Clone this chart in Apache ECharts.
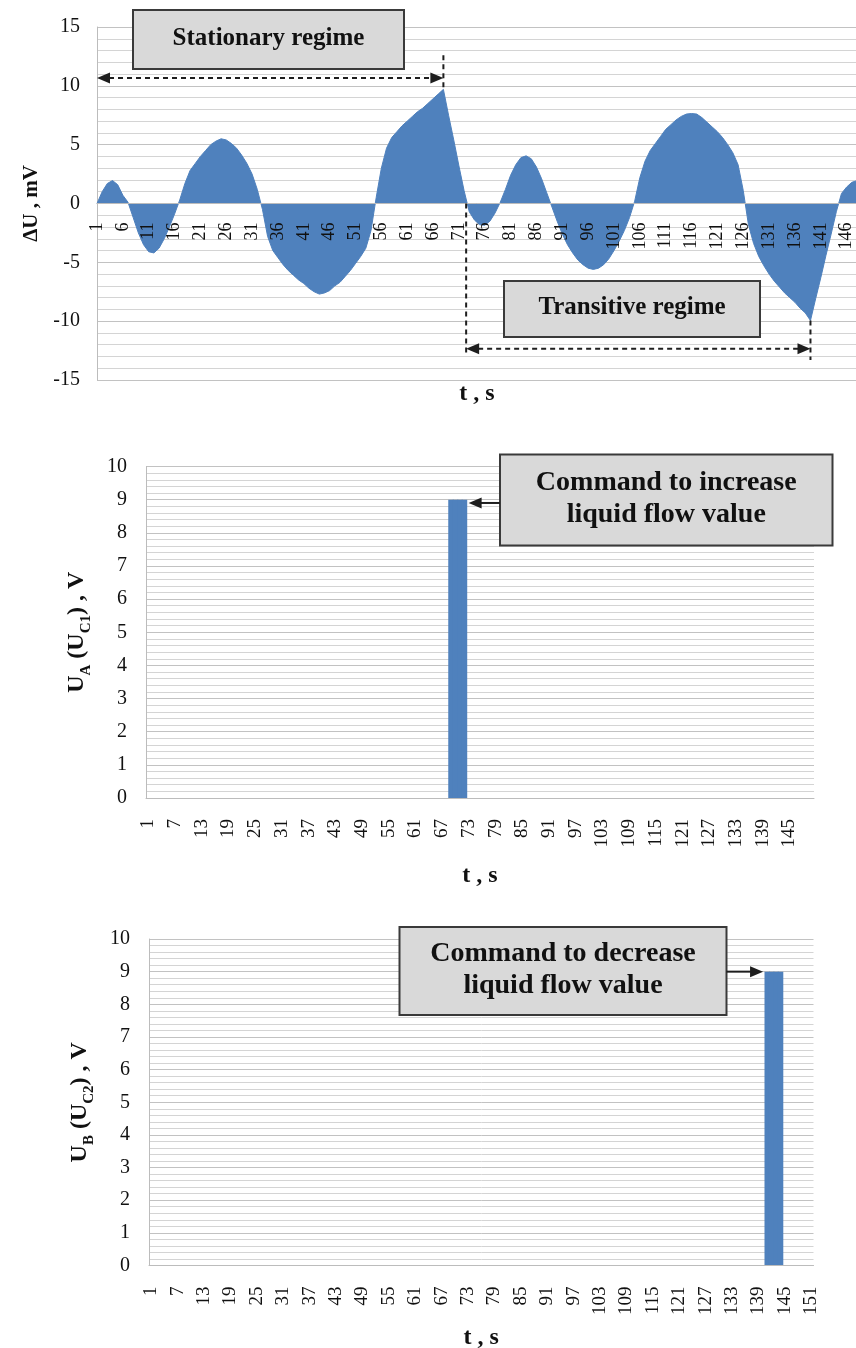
<!DOCTYPE html>
<html>
<head>
<meta charset="utf-8">
<script src="https://cdn.jsdelivr.net/npm/echarts@6/dist/echarts.min.js"></script>
<style>
html,body{margin:0;padding:0;background:#ffffff;}
#c{width:856px;height:1348px;}
</style>
</head>
<body>
<div id="c"></div>
<script>
// ---- Data ----
// Top chart: ΔU, mV for t = 1 .. 148 s
const deltaU = [
  0, 1.0, 1.7, 1.95, 1.6, 0.7, 0.1, -1.2, -2.5, -3.5,
  -4.1, -4.2, -3.8, -3.0, -2.0, -0.9, 0.3, 1.7, 2.8, 3.4,
  4.0, 4.5, 5.0, 5.3, 5.5, 5.4, 5.1, 4.7, 4.1, 3.4,
  2.5, 1.2, -0.5, -2.8, -4.0, -4.6, -5.2, -5.7, -6.1, -6.5,
  -6.8, -7.2, -7.5, -7.7, -7.6, -7.4, -7.0, -6.7, -6.2, -5.7,
  -5.1, -4.5, -3.8, -2.3, 0.5, 3.0, 4.7, 5.6, 6.1, 6.6,
  7.0, 7.4, 7.8, 8.1, 8.5, 8.9, 9.3, 9.7, 7.5, 5.4,
  3.2, 1.1, -0.7, -1.4, -1.8, -1.85, -1.5, -0.8, 0.1, 1.2,
  2.4, 3.3, 3.9, 4.05, 3.8, 3.1, 2.1, 0.9, -0.3, -1.5,
  -2.6, -3.5, -4.2, -4.8, -5.2, -5.5, -5.6, -5.5, -5.2, -4.7,
  -4.0, -3.2, -2.3, -1.2, 0.2, 2.2, 3.6, 4.5, 5.1, 5.7,
  6.3, 6.7, 7.1, 7.4, 7.6, 7.65, 7.6, 7.3, 6.9, 6.5,
  6.1, 5.6, 5.0, 4.3, 3.3, 1.1, -1.8, -3.4, -4.5, -5.3,
  -6.0, -6.6, -7.1, -7.6, -8.0, -8.4, -8.9, -9.3, -9.95, -8.1,
  -6.3, -4.4, -2.6, -0.7, 0.85, 1.4, 1.8, 1.95
];
// Middle chart: U_A (U_C1), V for t = 1 .. 150 s
const uaCommand = [
  0,0,0,0,0,0,0,0,0,0,
  0,0,0,0,0,0,0,0,0,0,
  0,0,0,0,0,0,0,0,0,0,
  0,0,0,0,0,0,0,0,0,0,
  0,0,0,0,0,0,0,0,0,0,
  0,0,0,0,0,0,0,0,0,0,
  0,0,0,0,0,0,0,0,9,9,
  9,9,0,0,0,0,0,0,0,0,
  0,0,0,0,0,0,0,0,0,0,
  0,0,0,0,0,0,0,0,0,0,
  0,0,0,0,0,0,0,0,0,0,
  0,0,0,0,0,0,0,0,0,0,
  0,0,0,0,0,0,0,0,0,0,
  0,0,0,0,0,0,0,0,0,0,
  0,0,0,0,0,0,0,0,0,0
];
// Bottom chart: U_B (U_C2), V for t = 1 .. 151 s
const ubCommand = [
  0,0,0,0,0,0,0,0,0,0,
  0,0,0,0,0,0,0,0,0,0,
  0,0,0,0,0,0,0,0,0,0,
  0,0,0,0,0,0,0,0,0,0,
  0,0,0,0,0,0,0,0,0,0,
  0,0,0,0,0,0,0,0,0,0,
  0,0,0,0,0,0,0,0,0,0,
  0,0,0,0,0,0,0,0,0,0,
  0,0,0,0,0,0,0,0,0,0,
  0,0,0,0,0,0,0,0,0,0,
  0,0,0,0,0,0,0,0,0,0,
  0,0,0,0,0,0,0,0,0,0,
  0,0,0,0,0,0,0,0,0,0,
  0,0,0,0,0,0,0,0,0,0,
  9,9,9,9,0,0,0,0,0,0,
  0
];
// Categories (time, s)
const tTop = deltaU.map((_, i) => String(i + 1));
const tUa = uaCommand.map((_, i) => String(i + 1));
const tUb = ubCommand.map((_, i) => String(i + 1));
// Axis ranges
const yTopRange = { min: -15, max: 15, interval: 5 };
const yCmdRange = { min: 0, max: 10, interval: 1 };
// Annotation anchors (category index, value)
const stationary = { from: 0, to: 67, level: 10.66, top: 12.6, peak: 9.7 };
const transitive = { from: 71.4, to: 138, level: -12.35, bottomL: -13.0, bottomR: -13.3, trough: -9.95 };

// ---- Chart ----
const SERIF = '"Liberation Serif","Times New Roman",serif';
const BLUE = '#4f81bd';
const chart = echarts.init(document.getElementById('c'), null, { renderer: 'canvas' });

const GRIDS = [
  { left: 97, top: 27, width: 760, height: 353 },
  { left: 146, top: 466.5, width: 668, height: 331.5 },
  { left: 149, top: 939, width: 664.5, height: 326.5 }
];
// x axis of the top chart sits on the zero line of its value axis
const topZeroOffset = -GRIDS[0].height * (0 - yTopRange.min) / (yTopRange.max - yTopRange.min);

function xAxisBase(idx, data, interval, nameGap, boundaryGap, offset) {
  return {
    type: 'category', gridIndex: idx, data: data, boundaryGap: boundaryGap,
    position: 'bottom', offset: offset,
    axisTick: { show: false },
    axisLine: { show: true, onZero: false, lineStyle: { color: '#bcbcbc', width: 1 } },
    axisLabel: { interval: interval, rotate: 90, fontFamily: SERIF, fontSize: idx === 0 ? 18 : 19, color: '#111', margin: idx === 0 ? 19 : 21 },
    splitLine: { show: false },
    name: 't , s', nameLocation: 'middle', nameGap: nameGap,
    nameTextStyle: { fontFamily: SERIF, fontWeight: 'bold', fontSize: 24, color: '#111' },
    z: 5
  };
}
function yAxisBase(idx, range, name, nameGap, nameStyle) {
  return {
    type: 'value', gridIndex: idx, min: range.min, max: range.max, interval: range.interval,
    axisLine: { show: true, onZero: false, lineStyle: { color: '#bcbcbc', width: 1 } },
    axisTick: { show: false },
    minorTick: { show: false, splitNumber: 5 },
    axisLabel: { fontFamily: SERIF, fontSize: 20, color: '#111', margin: idx === 0 ? 17 : 19 },
    splitLine: { show: true, lineStyle: { color: '#c2c2c2', width: 1 } },
    minorSplitLine: { show: true, lineStyle: { color: '#d4d4d4', width: 1 } },
    name: name, nameLocation: 'middle', nameRotate: 90, nameGap: nameGap,
    nameTextStyle: nameStyle
  };
}
function subName(fs) {
  return {
    fontFamily: SERIF, fontWeight: 'bold', fontSize: fs, color: '#111',
    rich: {
      m: { fontFamily: SERIF, fontWeight: 'bold', fontSize: fs, color: '#111', lineHeight: 30, verticalAlign: 'bottom', padding: [0, 0, 5, 0] },
      s: { fontFamily: SERIF, fontWeight: 'bold', fontSize: 15, color: '#111', lineHeight: 30, verticalAlign: 'bottom' }
    }
  };
}

const option = {
  animation: false,
  backgroundColor: '#ffffff',
  grid: GRIDS.map(g => Object.assign({ outerBoundsMode: 'none', containLabel: false }, g)),
  xAxis: [
    xAxisBase(0, tTop, 4, 178, false, topZeroOffset),
    xAxisBase(1, tUa, 5, 66, true, 0),
    xAxisBase(2, tUb, 5, 60, true, 0)
  ],
  yAxis: [
    yAxisBase(0, yTopRange, 'ΔU , mV', 55, { fontFamily: SERIF, fontWeight: 'bold', fontSize: 21, color: '#111' }),
    yAxisBase(1, yCmdRange, '{m|U}{s|A}{m| (U}{s|C1}{m|) , V}', 52, subName(24)),
    yAxisBase(2, yCmdRange, '{m|U}{s|B}{m| (U}{s|C2}{m|) , V}', 52, subName(24))
  ],
  series: [
    {
      type: 'line', xAxisIndex: 0, yAxisIndex: 0, data: deltaU, symbol: 'none', smooth: false,
      lineStyle: { color: BLUE, width: 1 }, areaStyle: { color: BLUE, opacity: 1, origin: 0 }, itemStyle: { color: BLUE }, z: 2
    },
    {
      type: 'bar', xAxisIndex: 1, yAxisIndex: 1, data: uaCommand, barWidth: 5.6,
      itemStyle: { color: BLUE }
    },
    {
      type: 'bar', xAxisIndex: 2, yAxisIndex: 2, data: ubCommand, barWidth: 5.6,
      itemStyle: { color: BLUE }
    }
  ]
};
chart.setOption(option);

// ---- Annotations ----
function pt(g, i, v) {
  const f0 = Math.floor(i), f = i - f0;
  const a = chart.convertToPixel({ xAxisIndex: g, yAxisIndex: g }, [f0, v]);
  if (f === 0) return a;
  const b = chart.convertToPixel({ xAxisIndex: g, yAxisIndex: g }, [f0 + 1, v]);
  return [a[0] + (b[0] - a[0]) * f, a[1]];
}
const INK = '#1e1e1e';
const DASH = [5, 4];
function dashed(x1, y1, x2, y2) {
  return { type: 'line', shape: { x1, y1, x2, y2 }, style: { stroke: INK, lineWidth: 2, lineDash: DASH }, z: 20 };
}
function solid(x1, y1, x2, y2) {
  return { type: 'line', shape: { x1, y1, x2, y2 }, style: { stroke: INK, lineWidth: 2 }, z: 20 };
}
function head(x, y, dir) { // dir: -1 points left, +1 points right
  const L = 13, W = 5.5;
  return { type: 'polygon', shape: { points: [[x, y], [x - dir * L, y - W], [x - dir * L, y + W]] }, style: { fill: INK }, z: 21 };
}
function box(x, y, w, h, text, fs, lh) {
  return [
    { type: 'rect', shape: { x, y, width: w, height: h }, style: { fill: '#d9d9d9', stroke: '#3a3a3a', lineWidth: 2 }, z: 15 },
    { type: 'text', x: x + w / 2, y: y + h / 2 - 1, style: { text, align: 'center', verticalAlign: 'middle', fontFamily: SERIF, fontWeight: 'bold', fontSize: fs, lineHeight: lh, fill: '#111' }, z: 16 }
  ];
}

const els = [];
// Stationary regime
{
  const a = pt(0, stationary.from, stationary.level);
  const b = pt(0, stationary.to, stationary.level);
  const topP = pt(0, stationary.to, stationary.top);
  const peakP = pt(0, stationary.to, stationary.peak);
  els.push(dashed(a[0] + 12, a[1], b[0] - 12, b[1]));
  els.push(head(a[0], a[1], -1), head(b[0], b[1], 1));
  els.push(dashed(b[0], topP[1], b[0], peakP[1]));
  els.push(...box(133, 10, 271, 59, 'Stationary regime', 25, 30));
}
// Transitive regime
{
  const a = pt(0, transitive.from, transitive.level);
  const b = pt(0, transitive.to, transitive.level);
  const z0 = pt(0, transitive.from, 0);
  const aB = pt(0, transitive.from, transitive.bottomL);
  const bT = pt(0, transitive.to, transitive.trough);
  const bB = pt(0, transitive.to, transitive.bottomR);
  els.push(dashed(z0[0], z0[1], aB[0], aB[1]));
  els.push(dashed(bT[0], bT[1], bB[0], bB[1]));
  els.push(dashed(a[0] + 12, a[1], b[0] - 12, b[1]));
  els.push(head(a[0], a[1], -1), head(b[0], b[1], 1));
  els.push(...box(504, 281, 256, 56, 'Transitive regime', 25, 30));
}
// Command to increase
{
  const tip = pt(1, 71.5, 8.9);
  const bx = 500;
  els.push(solid(bx, tip[1], tip[0] + 2 + 12, tip[1]));
  els.push(head(tip[0] + 2, tip[1], -1));
  els.push(...box(bx, 454.5, 332.5, 91, 'Command to increase\nliquid flow value', 28, 31.5));
}
// Command to decrease
{
  const tip = pt(2, 139.5, 9);
  const bx = 399.5, bw = 327;
  els.push(solid(bx + bw, tip[1], tip[0] - 2 - 12, tip[1]));
  els.push(head(tip[0] - 2, tip[1], 1));
  els.push(...box(bx, 927, bw, 88, 'Command to decrease\nliquid flow value', 28, 31.5));
}
chart.setOption({ graphic: { elements: els } });
</script>
</body>
</html>
